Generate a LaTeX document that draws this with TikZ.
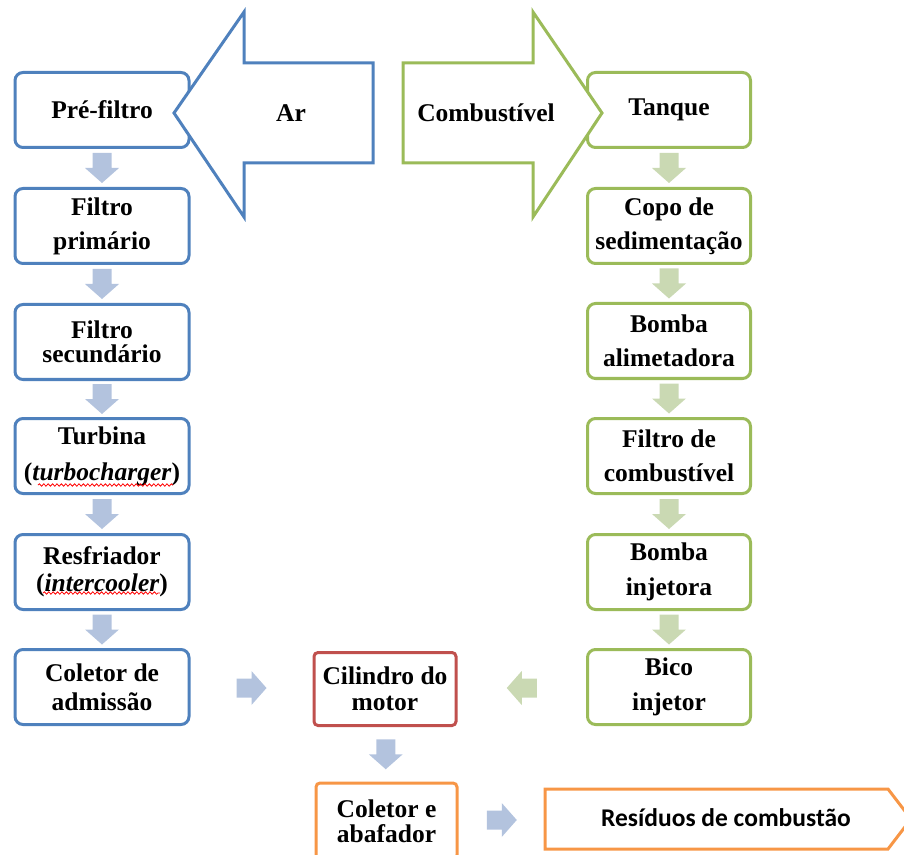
\documentclass[tikz,border=0pt]{standalone}
\usepackage{fontspec}
\setmainfont{Liberation Serif}
\newfontfamily\calibri{Carlito}
\usepackage{tikz}
\usetikzlibrary{calc}
\usetikzlibrary{decorations.pathmorphing}
\definecolor{airblue}{HTML}{4F81BD}
\definecolor{fuelgreen}{HTML}{9BBB59}
\definecolor{motorred}{HTML}{C0504D}
\definecolor{exhaustorange}{HTML}{F79646}
\definecolor{arrblue}{HTML}{B3C3DE}
\definecolor{arrgreen}{HTML}{CAD9B3}

\tikzset{
  stepbox/.style={draw, line width=1.5pt, rounded corners=4pt, fill=white, align=center,
    font=\bfseries\fontsize{12.75}{17}\selectfont, minimum height=37.5pt, inner sep=0pt},
  airbox/.style={stepbox, draw=airblue, minimum width=87pt},
  fuelbox/.style={stepbox, draw=fuelgreen, minimum width=81.5pt},
  bigarrow/.style={line width=1.5pt, fill=white, line join=miter},
  spellwave/.style={red, line width=0.4pt, decorate, decoration={snake, amplitude=0.6pt, segment length=2.2pt}},
  blockarr/.pic={\fill (-15,-9.5) -- (0,-9.5) -- (0,-17) -- (15,0) -- (0,17) -- (0,9.5) -- (-15,9.5) -- cycle;}
}

\begin{document}
\begin{tikzpicture}[x=0.5pt, y=0.5pt]
\useasboundingbox (0,0) rectangle (904,-855);
\clip (0,0) rectangle (904,-855);
% ar
\node[airbox] (prefiltro) at (102,-110) {Pré-filtro};
\node[airbox] (filtroprim) at (102,-226) {Filtro\\primário};
\node[airbox] (filtrosec) at (102,-342) {Filtro\\[-5pt]secundário};
\node[airbox] (turbina) at (102,-456) {Turbina\\[1pt](\textit{turbocharger})};
\node[airbox] (resfriador) at (102,-572) {Resfriador\\[-3.5pt](\textit{intercooler})};
\node[airbox] (coletorad) at (102,-687) {Coletor de\\[-2.5pt]admissão};
\draw[spellwave] (38,-485) -- (173,-485);
\draw[spellwave] (43,-593) -- (160,-593);
% combustivel
\node[fuelbox] (tanque) at (669,-110) {\raisebox{-1.5pt}{Tanque}};
\node[fuelbox] (copo) at (669,-226) {Copo de\\sedimentação};
\node[fuelbox] (bomba) at (669,-341) {Bomba\\alimetadora};
\node[fuelbox] (filtrocomb) at (669,-456) {Filtro de\\combustível};
\node[fuelbox] (bombainj) at (669,-572) {Bomba\\[0.5pt]injetora};
\node[fuelbox] (bico) at (669,-687) {Bico\\[0.5pt]injetor};
% motor
\node[stepbox, draw=motorred, rounded corners=2pt, minimum width=71pt, minimum height=36.5pt] (cilindro) at (385,-689) {Cilindro do\\[-4pt]motor};
\node[stepbox, draw=exhaustorange, rounded corners=2pt, minimum width=70.5pt, minimum height=38pt] (coletorab) at (386.5,-821) {Coletor e\\[-4.5pt]abafador};
\draw[line width=1.5pt, draw=exhaustorange] (545,-789) -- (888,-789) -- (911,-819) -- (888,-849) -- (545,-849) -- cycle;
\coordinate (residuosin) at (545,-819);
\node[font=\calibri\bfseries\fontsize{12.75}{15}\selectfont] (residuos) at (726,-818) {Resíduos de combustão};
% setas grandes
\draw[bigarrow, draw=airblue] (174,-113) -- (244,-12) -- (244,-63) -- (373,-63) -- (373,-163) -- (244,-163) -- (244,-217) -- cycle;
\node[font=\bfseries\fontsize{12.75}{17}\selectfont] (ar) at (291,-113) {Ar};
\draw[bigarrow, draw=fuelgreen] (403,-63) -- (533,-63) -- (533,-12) -- (602,-113) -- (533,-217) -- (533,-163) -- (403,-163) -- cycle;
\node[font=\bfseries\fontsize{12.75}{17}\selectfont] (comb) at (486,-113) {Combustível};
% setas pequenas
\foreach \a/\b in {prefiltro/filtroprim, filtroprim/filtrosec, filtrosec/turbina, turbina/resfriador, resfriador/coletorad, cilindro/coletorab}
  \pic[rotate=-90, fill=arrblue] at ($(\a.south)!0.5!(\b.north)$) {blockarr};
\foreach \a/\b in {tanque/copo, copo/bomba, bomba/filtrocomb, filtrocomb/bombainj, bombainj/bico}
  \pic[rotate=-90, fill=arrgreen] at ($(\a.south)!0.5!(\b.north)$) {blockarr};
\pic[fill=arrblue] at ($(coletorad.east)!0.5!(cilindro.west)$) {blockarr};
\pic[rotate=180, fill=arrgreen] at ($(bico.west)!0.5!(cilindro.east)$) {blockarr};
\pic[fill=arrblue] at ($(coletorab.east)!0.5!(residuosin)$) {blockarr};
\end{tikzpicture}
\end{document}
